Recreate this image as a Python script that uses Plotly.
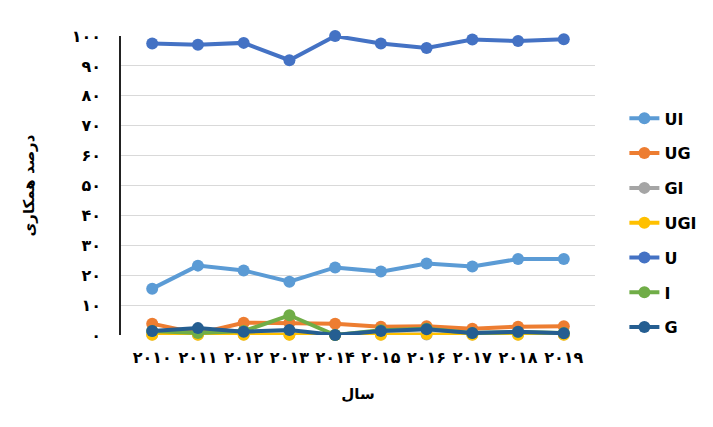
import plotly.graph_objects as go

years = ["۲۰۱۰", "۲۰۱۱", "۲۰۱۲", "۲۰۱۳", "۲۰۱۴", "۲۰۱۵", "۲۰۱۶", "۲۰۱۷", "۲۰۱۸", "۲۰۱۹"]
UI = [15.5, 23.2, 21.6, 17.8, 22.6, 21.2, 23.9, 22.9, 25.4, 25.4]
UG = [3.8, 0.5, 4.1, 4.1, 3.8, 2.8, 2.9, 2.1, 2.8, 2.9]
GI = [0.2, 0.2, 0.2, 0.2, 0.1, 0.2, 0.2, 0.2, 0.2, 0.2]
UGI = [0.1, 0.1, 0.1, 0.1, 0.0, 0.1, 0.3, 0.1, 0.1, 0.1]
U = [97.5, 97.1, 97.7, 91.9, 100.0, 97.5, 96.0, 98.8, 98.3, 98.9]
I = [1.3, 0.7, 1.3, 6.6, 0.0, 1.6, 2.1, 0.7, 1.0, 0.7]
G = [1.3, 2.3, 1.1, 1.7, 0.0, 1.3, 1.9, 0.7, 1.1, 0.6]

yticks = list(range(0, 101, 10))
ytext = ["۰", "۱۰", "۲۰", "۳۰", "۴۰", "۵۰", "۶۰", "۷۰", "۸۰", "۹۰", "۱۰۰"]

series = [
    ("UI", UI, "#5B9BD5"),
    ("UG", UG, "#ED7D31"),
    ("GI", GI, "#A5A5A5"),
    ("UGI", UGI, "#FFC000"),
    ("U", U, "#4472C4"),
    ("I", I, "#70AD47"),
    ("G", G, "#255E91"),
]

fig = go.Figure()
for name, vals, col in series:
    fig.add_trace(go.Scatter(
        x=years, y=vals, name=name, mode="lines+markers",
        legendgroup=name,
        line=dict(color=col, width=4),
        marker=dict(color=col, size=12),
        cliponaxis=False,
    ))

font = "DejaVu Sans"
fig.update_layout(
    width=705, height=419,
    margin=dict(l=113, r=118, t=28, b=92, autoexpand=False),
    paper_bgcolor="white", plot_bgcolor="white",
    font=dict(family=font, size=13, color="black"),
    showlegend=True,
    legend=dict(
        x=1.062, xanchor="left", y=0.375, yanchor="middle",
        font=dict(family=font, size=16, color="black", weight="bold"),
        tracegroupgap=11,
        bgcolor="rgba(0,0,0,0)",
    ),
    xaxis=dict(
        type="category", showgrid=False, zeroline=False, automargin=False,
        showline=False, ticks="", ticklabelstandoff=11,
        tickfont=dict(family=font, size=16, color="black", weight="bold"),
        title=dict(text="سال", font=dict(family=font, size=15, color="black", weight="bold"), standoff=22),
    ),
    yaxis=dict(
        range=[0, 100], tickvals=yticks, ticktext=ytext, automargin=False,
        showgrid=True, gridcolor="#D9D9D9", gridwidth=1,
        zeroline=False, showline=True, linecolor="#222222", linewidth=1.5,
        ticks="", ticklabelstandoff=15,
        tickfont=dict(family=font, size=16, color="black", weight="bold"),
        title=dict(text="درصد همکاری", font=dict(family=font, size=15, color="black", weight="bold"), standoff=34),
    ),
)

fig.write_html("out.html")
